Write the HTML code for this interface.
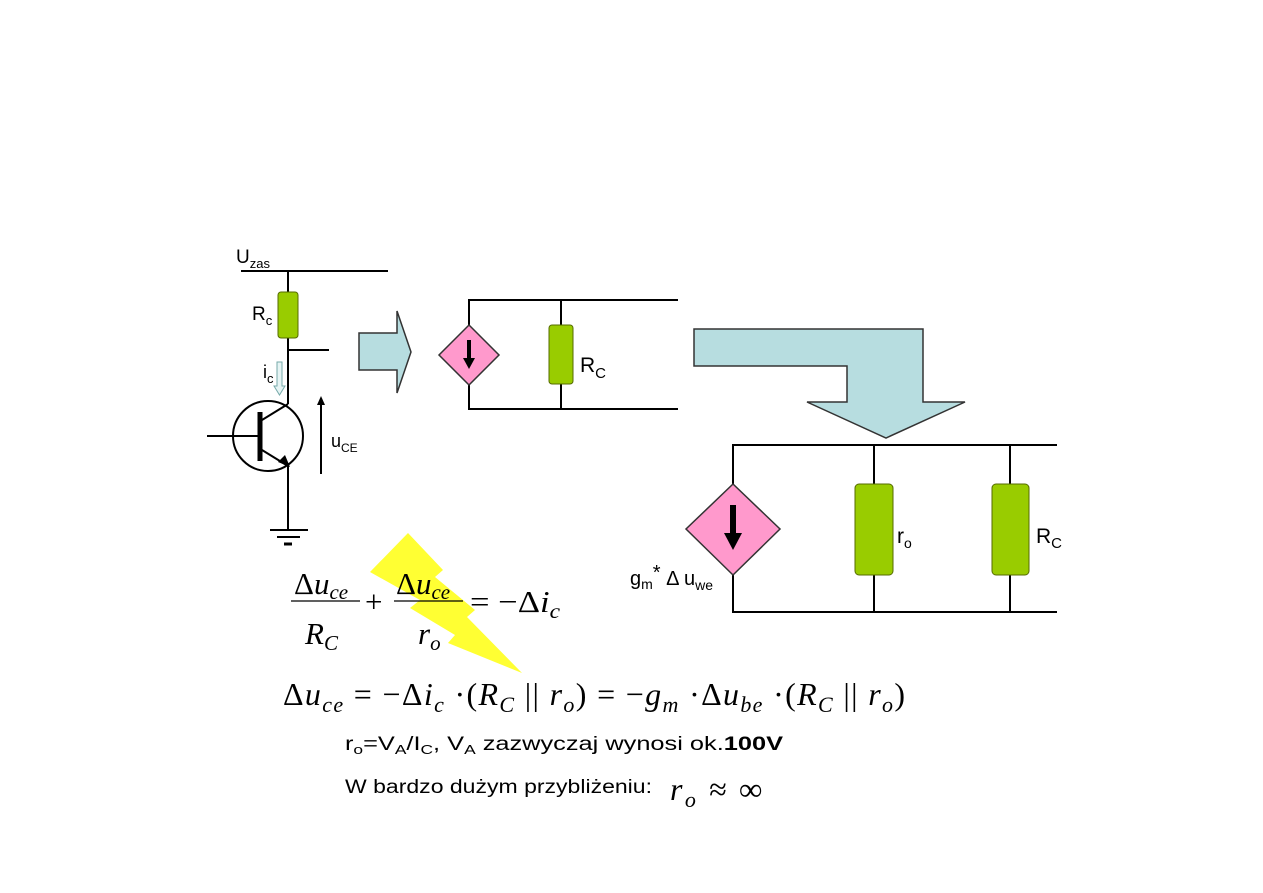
<!DOCTYPE html>
<html><head><meta charset="utf-8"><style>
body{margin:0;background:#fff;}
svg{display:block}
.s{font-family:"Liberation Sans",sans-serif;}
.m{font-family:"Liberation Serif",serif;font-style:italic;}
.r{font-family:"Liberation Serif",serif;}
</style></head><body>
<svg width="1263" height="893" viewBox="0 0 1263 893" xmlns="http://www.w3.org/2000/svg">
<g stroke="#000" stroke-width="2" fill="none">
<line x1="241" y1="271" x2="388" y2="271"/>
<line x1="288" y1="271" x2="288" y2="404"/>
<line x1="288" y1="350" x2="329" y2="350"/>
<circle cx="268" cy="436" r="35"/>
<line x1="207" y1="436" x2="258" y2="436"/>
<line x1="260" y1="412" x2="260" y2="461" stroke-width="5"/>
<line x1="262" y1="420" x2="288" y2="404"/>
<line x1="262" y1="450" x2="288" y2="466"/>
<line x1="288" y1="466" x2="288" y2="530"/>
<line x1="270" y1="530" x2="308" y2="530"/>
<line x1="277" y1="537" x2="300" y2="537"/>
<line x1="284" y1="544" x2="292" y2="544" stroke-width="3"/>
<line x1="321" y1="474" x2="321" y2="402"/>
<polyline points="678,300 469,300 469,409 678,409"/>
<line x1="561" y1="300" x2="561" y2="409"/>
<polyline points="1057,445 733,445 733,612 1057,612"/>
<line x1="874" y1="445" x2="874" y2="612"/>
<line x1="1010" y1="445" x2="1010" y2="612"/>
</g>
<polygon points="290,467 278,462 285,455" fill="#000"/>
<polygon points="321,396 317,405 325,405" fill="#000"/>
<rect x="278" y="292" width="20" height="46" rx="3" fill="#99cc00" stroke="#556b00" stroke-width="1"/>
<rect x="549" y="325" width="24" height="59" rx="3" fill="#99cc00" stroke="#556b00" stroke-width="1"/>
<rect x="855" y="484" width="38" height="91" rx="4" fill="#99cc00" stroke="#556b00" stroke-width="1"/>
<rect x="992" y="484" width="37" height="91" rx="4" fill="#99cc00" stroke="#556b00" stroke-width="1"/>
<polygon points="469,325 499,355 469,385 439,355" fill="#ff99cc" stroke="#333" stroke-width="1.5"/>
<line x1="469" y1="340" x2="469" y2="360" stroke="#000" stroke-width="4"/>
<polygon points="463,358 475,358 469,369" fill="#000"/>
<polygon points="733,484 780,529 733,575 686,529" fill="#ff99cc" stroke="#333" stroke-width="1.5"/>
<line x1="733" y1="505" x2="733" y2="535" stroke="#000" stroke-width="6"/>
<polygon points="724,533 742,533 733,550" fill="#000"/>
<polygon points="277,362 282,362 282,386 285,386 279.5,395 274,386 277,386" fill="#e6f4f4" stroke="#7aa" stroke-width="1"/>
<polygon points="359,333 397,333 397,311 411,352 397,393 397,370 359,370" fill="#b7dde0" stroke="#333" stroke-width="1.5"/>
<polygon points="694,329 923,329 923,402 965,402 886,438 807,402 847,402 847,366 694,366" fill="#b7dde0" stroke="#333" stroke-width="1.5"/>
<polygon points="408,533 443,570 435,577 475,610 467,617 522,673 448,643 455,635 410,608 420,600 370,572" fill="#ffff33"/>
<g class="s" fill="#000">
<text x="236" y="263" font-size="19">U<tspan font-size="13" dy="5">zas</tspan></text>
<text x="252" y="320" font-size="19">R<tspan font-size="13" dy="5">c</tspan></text>
<text x="263" y="378" font-size="18">i<tspan font-size="13" dy="5">c</tspan></text>
<text x="331" y="447" font-size="18">u<tspan font-size="12" dy="5">CE</tspan></text>
<text x="580" y="372" font-size="21">R<tspan font-size="15" dy="6">C</tspan></text>
<text x="897" y="543" font-size="21">r<tspan font-size="14" dy="5">o</tspan></text>
<text x="1036" y="543" font-size="21">R<tspan font-size="15" dy="5">C</tspan></text>
<text x="630" y="585" font-size="20">g<tspan font-size="14" dy="4">m</tspan><tspan dy="-10">*</tspan><tspan dy="6"> Δ u</tspan><tspan font-size="14" dy="5">we</tspan></text>
<text x="345" y="750" font-size="19" textLength="438" lengthAdjust="spacingAndGlyphs">r<tspan font-size="13" dy="4">o</tspan><tspan dy="-4">=V</tspan><tspan font-size="13" dy="4">A</tspan><tspan dy="-4">/I</tspan><tspan font-size="13" dy="4">C</tspan><tspan dy="-4">,   V</tspan><tspan font-size="13" dy="4">A</tspan><tspan dy="-4"> zazwyczaj wynosi ok.</tspan><tspan font-weight="bold">100V</tspan></text>
<text x="345" y="793" font-size="19" textLength="307" lengthAdjust="spacingAndGlyphs">W bardzo dużym przybliżeniu:</text>
</g>
<g fill="#000" font-size="31">
<text x="294" y="594" class="r">Δ<tspan class="m">u</tspan><tspan class="m" font-size="21" dy="5">ce</tspan></text>
<line x1="291" y1="601" x2="360" y2="601" stroke="#000" stroke-width="1.3"/>
<text x="305" y="644" class="m">R<tspan font-size="21" dy="6">C</tspan></text>
<text x="365" y="612" class="r">+</text>
<text x="396" y="594" class="r">Δ<tspan class="m">u</tspan><tspan class="m" font-size="21" dy="5">ce</tspan></text>
<line x1="394" y1="601" x2="463" y2="601" stroke="#000" stroke-width="1.3"/>
<text x="418" y="644" class="m">r<tspan font-size="21" dy="6">o</tspan></text>
<text x="470" y="612" class="r" textLength="90" lengthAdjust="spacingAndGlyphs">= −Δ<tspan class="m">i</tspan><tspan class="m" font-size="21" dy="6">c</tspan></text>
<text x="283" y="705" class="r" font-size="32" textLength="622" lengthAdjust="spacing">Δ<tspan class="m">u</tspan><tspan class="m" font-size="22" dy="7">ce</tspan><tspan dy="-7"> = −Δ</tspan><tspan class="m">i</tspan><tspan class="m" font-size="22" dy="7">c</tspan><tspan dy="-7"> ·(</tspan><tspan class="m">R</tspan><tspan class="m" font-size="22" dy="7">C</tspan><tspan dy="-7"> || </tspan><tspan class="m">r</tspan><tspan class="m" font-size="22" dy="7">o</tspan><tspan dy="-7">) = −</tspan><tspan class="m">g</tspan><tspan class="m" font-size="22" dy="7">m</tspan><tspan dy="-7"> ·Δ</tspan><tspan class="m">u</tspan><tspan class="m" font-size="22" dy="7">be</tspan><tspan dy="-7"> ·(</tspan><tspan class="m">R</tspan><tspan class="m" font-size="22" dy="7">C</tspan><tspan dy="-7"> || </tspan><tspan class="m">r</tspan><tspan class="m" font-size="22" dy="7">o</tspan><tspan dy="-7">)</tspan></text>
<text x="670" y="800" class="m" font-size="32" textLength="92" lengthAdjust="spacing">r<tspan font-size="22" dy="7">o</tspan><tspan class="r" dy="-7"> ≈ ∞</tspan></text>
</g>
</svg>
</body></html>
